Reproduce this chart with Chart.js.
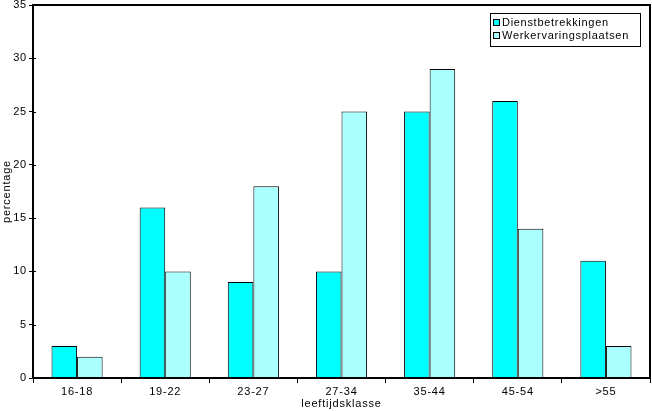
<!DOCTYPE html>
<html>
<head>
<meta charset="utf-8">
<script src="https://cdn.jsdelivr.net/npm/chart.js@4/dist/chart.umd.min.js"></script>
<style>
  html, body { margin: 0; padding: 0; background: #fff; }
  #wrap { width: 652px; height: 411px; }
</style>
</head>
<body>
<div id="wrap"><canvas id="chart" width="652" height="411"></canvas></div>
<script>
// chart data
var categories = ["16-18", "19-22", "23-27", "27-34", "35-44", "45-54", ">55"];
var dienstbetrekkingen = [3, 16, 9, 10, 25, 26, 11];
var werkervaringsplaatsen = [2, 10, 18, 25, 29, 14, 3];
var seriesNames = ["Dienstbetrekkingen", "Werkervaringsplaatsen"];
var yTicks = [0, 5, 10, 15, 20, 25, 30, 35];

var FONT = "'Liberation Sans', Arial, sans-serif";

// old-style wide text: set letter spacing before anything is drawn
var spacingPlugin = {
    id: "spacing",
    beforeDraw: function (chart) {
        chart.ctx.letterSpacing = "0.8px";
    }
};

// frame round the plot area, inner halves of the y ticks, boxed legend
var framePlugin = {
    id: "frame",
    afterDraw: function (chart) {
        var ctx = chart.ctx, a = chart.chartArea;
        ctx.save();
        ctx.strokeStyle = "#000";
        ctx.lineWidth = 2;
        ctx.strokeRect(a.left, a.top, a.right - a.left, a.bottom - a.top);

        ctx.lineWidth = 1;
        var ys = chart.scales.y;
        yTicks.forEach(function (v) {
            var py = Math.round(ys.getPixelForValue(v)) + 0.5;
            ctx.beginPath();
            ctx.moveTo(a.left, py);
            ctx.lineTo(a.left + 3, py);
            ctx.stroke();
        });

        // legend
        var x = 490, y = 13, w = 150, h = 33;
        ctx.fillStyle = "#fff";
        ctx.fillRect(x + 0.5, y + 0.5, w, h);
        ctx.strokeRect(x + 0.5, y + 0.5, w, h);
        ctx.font = "11px " + FONT;
        ctx.letterSpacing = "0.7px";
        ctx.textBaseline = "middle";
        chart.data.datasets.forEach(function (ds, i) {
            var ry = y + 10 + i * 13;
            ctx.fillStyle = ds.backgroundColor;
            ctx.fillRect(x + 3.5, ry - 3.5, 6, 6);
            ctx.strokeStyle = "#000";
            ctx.strokeRect(x + 3.5, ry - 3.5, 6, 6);
            ctx.fillStyle = "#000";
            ctx.fillText(ds.label, x + 12, ry);
        });
        ctx.restore();
    }
};

new Chart(document.getElementById("chart"), {
    type: "bar",
    data: {
        labels: categories,
        datasets: [
            {
                label: seriesNames[0],
                data: dienstbetrekkingen,
                backgroundColor: "#00ffff",
                borderColor: "#000",
                borderWidth: 1
            },
            {
                label: seriesNames[1],
                data: werkervaringsplaatsen,
                backgroundColor: "#aaffff",
                borderColor: "#000",
                borderWidth: 1
            }
        ]
    },
    options: {
        responsive: false,
        animation: false,
        devicePixelRatio: 1,
        layout: { padding: { top: 5, right: 2, left: 0, bottom: 0 } },
        plugins: {
            legend: { display: false },
            tooltip: { enabled: false }
        },
        datasets: {
            bar: { categoryPercentage: 0.58, barPercentage: 1 }
        },
        scales: {
            x: {
                grid: {
                    offset: true,
                    drawOnChartArea: false,
                    tickLength: 5,
                    color: "#000"
                },
                border: { color: "#000", width: 2 },
                ticks: {
                    color: "#000",
                    font: { family: FONT, size: 11 },
                    padding: 2,
                    maxRotation: 0
                },
                title: {
                    display: true,
                    text: "leeftijdsklasse",
                    color: "#000",
                    font: { family: FONT, size: 11 },
                    padding: { top: 0, bottom: 0 }
                },
                afterFit: function (s) { s.height = 33; }
            },
            y: {
                min: 0,
                max: 35,
                afterBuildTicks: function (s) {
                    s.ticks = yTicks.map(function (v) { return { value: v }; });
                },
                grid: {
                    drawOnChartArea: false,
                    tickLength: 4,
                    color: "#000"
                },
                border: { color: "#000", width: 2 },
                ticks: {
                    color: "#000",
                    font: { family: FONT, size: 11 },
                    padding: 2
                },
                title: {
                    display: true,
                    text: "percentage",
                    color: "#000",
                    font: { family: FONT, size: 11 },
                    padding: { top: 0, bottom: 0 }
                },
                afterFit: function (s) {
                    s.width = 33;
                    s.paddingTop = 0;
                    s.paddingBottom = 0;
                }
            }
        }
    },
    plugins: [spacingPlugin, framePlugin]
});
</script>
</body>
</html>
